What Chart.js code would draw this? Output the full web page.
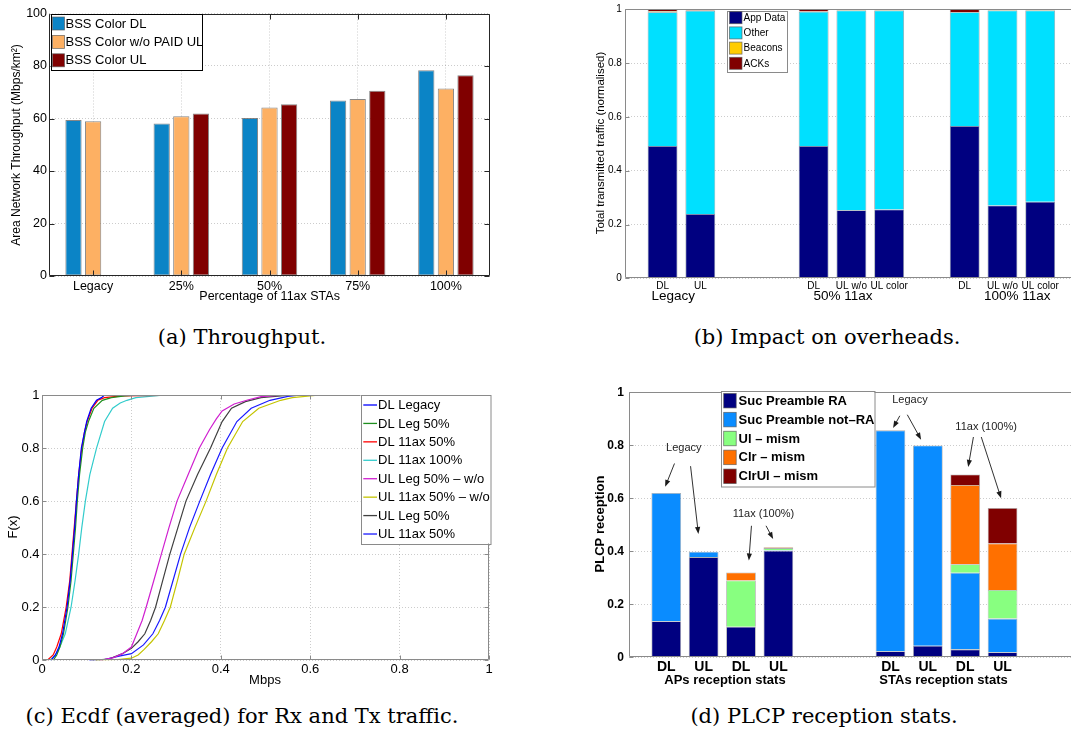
<!DOCTYPE html>
<html>
<head>
<meta charset="utf-8">
<title>BSS colouring results</title>
<script src="https://cdn.jsdelivr.net/npm/chart.js@4.4.1/dist/chart.umd.min.js"></script>
<style>
  html, body { margin:0; padding:0; background:#fff; }
  body { width:1071px; height:736px; overflow:hidden; position:relative; }
  .pane { position:absolute; }
  .pane canvas { display:block; }
  .cap { position:absolute; font-family:"DejaVu Serif","Liberation Serif",serif; font-size:21px; line-height:24px; color:#000; white-space:nowrap; transform:translateX(-50%); }
</style>
</head>
<body>
<div class="pane" style="left:0;top:0;"><canvas id="chartA" width="540" height="318"></canvas></div>
<div class="pane" style="left:540px;top:0;"><canvas id="chartB" width="560" height="318"></canvas></div>
<div class="pane" style="left:0;top:380px;"><canvas id="chartC" width="540" height="320"></canvas></div>
<div class="pane" style="left:540px;top:380px;"><canvas id="chartD" width="560" height="320"></canvas></div>
<div class="cap" style="left:242px;top:325px;">(a) Throughput.</div>
<div class="cap" style="left:827px;top:325px;">(b) Impact on overheads.</div>
<div class="cap" style="left:242px;top:704px;">(c) Ecdf (averaged) for Rx and Tx traffic.</div>
<div class="cap" style="left:824px;top:704px;">(d) PLCP reception stats.</div>
<script>
// ---------------- (a) Throughput ----------------
const tpCategories = ['Legacy', '25%', '50%', '75%', '100%'];
const tpBssColorDL = [59.4, 58.1, 60.2, 66.9, 78.4];
const tpBssColorWoPaidUL = [59.0, 60.9, 64.2, 67.4, 71.4];
const tpBssColorUL = [null, 61.9, 65.4, 70.6, 76.5];

// ---------------- (b) Overheads ----------------
const ovCategories = ['', 'DL', 'UL', '', '', 'DL', 'UL w/o', 'UL color', '', 'DL', 'UL w/o', 'UL color', ''];
const ovGroups = ['Legacy', '50% 11ax', '100% 11ax'];
const ovAppData = [null, 0.492, 0.239, null, null, 0.492, 0.253, 0.256, null, 0.566, 0.271, 0.285, null];
const ovOther   = [null, 0.497, 0.756, null, null, 0.499, 0.743, 0.740, null, 0.423, 0.725, 0.711, null];
const ovBeacons = [null, 0.004, 0.001, null, null, 0.001, 0.001, 0.001, null, 0.001, 0.001, 0.001, null];
const ovACKs    = [null, 0.007, 0.004, null, null, 0.008, 0.003, 0.003, null, 0.010, 0.003, 0.003, null];

// ---------------- (c) ECDF curves [Mbps, F(x)] ----------------
const dlLegacy = [[0.020,0],[0.030,0.02],[0.038,0.05],[0.046,0.10],[0.056,0.20],[0.063,0.30],[0.068,0.40],[0.073,0.50],[0.077,0.60],[0.082,0.70],[0.088,0.80],[0.095,0.86],[0.100,0.90],[0.110,0.95],[0.122,0.98],[0.133,0.99],[0.140,1.00]];
const dlLeg50 = [[0.025,0],[0.033,0.02],[0.040,0.05],[0.048,0.10],[0.058,0.20],[0.065,0.30],[0.070,0.40],[0.075,0.50],[0.079,0.60],[0.084,0.70],[0.091,0.80],[0.097,0.86],[0.104,0.90],[0.116,0.95],[0.135,0.98],[0.155,0.99],[0.185,0.997],[0.220,1.00]];
const dl11ax50 = [[0.012,0],[0.025,0.02],[0.033,0.05],[0.043,0.10],[0.054,0.20],[0.062,0.30],[0.067,0.40],[0.072,0.50],[0.077,0.60],[0.082,0.70],[0.089,0.80],[0.095,0.86],[0.101,0.90],[0.112,0.95],[0.125,0.98],[0.140,0.99],[0.180,0.997],[0.350,1.00]];
const dl11ax100 = [[0.018,0],[0.030,0.02],[0.040,0.05],[0.052,0.10],[0.065,0.20],[0.074,0.30],[0.082,0.40],[0.089,0.50],[0.097,0.60],[0.107,0.70],[0.122,0.80],[0.140,0.90],[0.158,0.95],[0.175,0.97],[0.190,0.98],[0.210,0.99],[0.240,0.995],[0.276,1.00]];
const ulLeg50Wo = [[0.130,0],[0.160,0.010],[0.180,0.025],[0.200,0.05],[0.212,0.10],[0.224,0.15],[0.233,0.20],[0.250,0.30],[0.267,0.40],[0.284,0.50],[0.302,0.60],[0.327,0.70],[0.352,0.80],[0.375,0.87],[0.390,0.91],[0.403,0.94],[0.430,0.966],[0.460,0.981],[0.490,0.994],[0.545,1.00]];
const ul11ax50Wo = [[0.120,0],[0.170,0.003],[0.200,0.008],[0.215,0.02],[0.228,0.04],[0.245,0.07],[0.260,0.10],[0.274,0.15],[0.287,0.20],[0.303,0.30],[0.318,0.40],[0.342,0.50],[0.367,0.60],[0.390,0.70],[0.415,0.80],[0.449,0.90],[0.485,0.95],[0.534,0.98],[0.560,0.99],[0.622,1.00]];
const ulLeg50 = [[0.110,0],[0.150,0.005],[0.180,0.025],[0.200,0.045],[0.215,0.07],[0.230,0.10],[0.243,0.15],[0.254,0.20],[0.270,0.30],[0.286,0.40],[0.304,0.50],[0.322,0.60],[0.348,0.70],[0.377,0.80],[0.403,0.90],[0.424,0.95],[0.455,0.975],[0.490,0.99],[0.560,1.00]];
const ul11ax50 = [[0.105,0],[0.140,0.003],[0.170,0.015],[0.200,0.025],[0.227,0.058],[0.248,0.10],[0.263,0.15],[0.276,0.20],[0.293,0.30],[0.310,0.40],[0.330,0.50],[0.353,0.60],[0.377,0.70],[0.403,0.80],[0.436,0.90],[0.468,0.95],[0.510,0.98],[0.550,0.995],[0.580,1.00]];

// ---------------- (d) PLCP reception ----------------
const plcpCategories = ['', 'DL', 'UL', 'DL', 'UL', '', '', 'DL', 'UL', 'DL', 'UL', '', ''];
const plcpGroups = ['APs reception stats', 'STAs reception stats'];
const sucPreambleRA    = [null, 0.136, 0.378, 0.115, 0.402, null, null, 0.023, 0.044, 0.030, 0.019, null, null];
const sucPreambleNotRA = [null, 0.484, 0.020, 0,     0.002, null, null, 0.833, 0.755, 0.289, 0.127, null, null];
const ulMism           = [null, 0,     0,     0.175, 0.008, null, null, 0,     0,     0.032, 0.108, null, null];
const clrMism          = [null, 0,     0,     0.030, 0.003, null, null, 0,     0,     0.299, 0.175, null, null];
const clrUlMism        = [null, 0,     0,     0,     0,     null, null, 0,     0,     0.040, 0.134, null, null];
// annotations in data units: [text, slot, value] and arrows [slot1, v1, slot2, v2]
const plcpNotes = [['Legacy', 1.47, 0.79], ['11ax (100%)', 3.60, 0.542], ['Legacy', 7.52, 0.971], ['11ax (100%)', 9.56, 0.868]];
const plcpArrows = [[1.22,0.731,0.97,0.643],[1.65,0.721,1.86,0.465],[3.28,0.496,3.21,0.365],[3.67,0.496,3.86,0.446],
                    [7.25,0.911,7.07,0.865],[7.45,0.915,7.82,0.821],[9.22,0.831,9.08,0.718],[9.43,0.831,9.96,0.600]];

// ---------------- layout helpers ----------------
const SANS = '"Liberation Sans", Arial, Helvetica, sans-serif';
Chart.defaults.font.family = SANS;
Chart.defaults.color = '#000';
Chart.defaults.animation = false;
Chart.defaults.plugins.legend.display = false;
Chart.defaults.plugins.tooltip.enabled = false;
const f = (size, weight) => `${weight || 'normal'} ${size}px ${SANS}`;
const num = v => String(Math.round(v * 10) / 10);
const GRID = 'rgba(0,0,0,0.2)';
const ovGroupAt = [1.28, 5.78, 10.39];
const plcpGroupAt = [2.57, 8.42];

const decor = {
  id: 'decor',
  afterDraw(chart, args, o) {
    const ctx = chart.ctx, ca = chart.chartArea, xs = chart.scales.x, ys = chart.scales.y;
    ctx.save();
    const L = Math.round(ca.left) + 0.5, R = Math.round(ca.right) - 0.5, T = Math.round(ca.top) + 0.5, B = Math.round(ca.bottom) - 0.5;
    if (o.ticksIn) {
      const n = o.ticksIn.len;
      ctx.strokeStyle = o.frame.color; ctx.lineWidth = 1; ctx.beginPath();
      (o.ticksIn.y || []).forEach(side => ys.ticks.forEach((t, i) => {
        const py = Math.round(ys.getPixelForTick(i)) + 0.5;
        if (side === 'left') { ctx.moveTo(L, py); ctx.lineTo(L + n, py); } else { ctx.moveTo(R, py); ctx.lineTo(R - n, py); }
      }));
      (o.ticksIn.x || []).forEach(side => xs.ticks.forEach((t, i) => {
        const px = Math.round(xs.getPixelForTick(i)) + 0.5;
        if (side === 'bottom') { ctx.moveTo(px, B); ctx.lineTo(px, B - n); } else { ctx.moveTo(px, T); ctx.lineTo(px, T + n); }
      }));
      ctx.stroke();
    }
    if (o.frame) {
      ctx.strokeStyle = o.frame.color; ctx.lineWidth = 1; ctx.beginPath();
      const s = o.frame.sides;
      if (s.includes('top')) { ctx.moveTo(L, T); ctx.lineTo(R, T); }
      if (s.includes('bottom')) { ctx.moveTo(L, B); ctx.lineTo(R, B); }
      if (s.includes('left')) { ctx.moveTo(L, T); ctx.lineTo(L, B); }
      if (s.includes('right')) { ctx.moveTo(R, T); ctx.lineTo(R, B); }
      ctx.stroke();
    }
    if (o.legend) {
      const g = o.legend;
      ctx.fillStyle = '#fff'; ctx.fillRect(g.x, g.y, g.w, g.h);
      ctx.strokeStyle = g.border; ctx.lineWidth = 1; ctx.strokeRect(Math.round(g.x) + 0.5, Math.round(g.y) + 0.5, g.w, g.h);
      chart.data.datasets.forEach((ds, i) => {
        const cy = g.y + g.first + i * g.row;
        if (g.swatch === 'line') {
          ctx.strokeStyle = ds.borderColor; ctx.lineWidth = 1.3; ctx.beginPath();
          ctx.moveTo(g.x + g.sx, cy); ctx.lineTo(g.x + g.sx + g.sw, cy); ctx.stroke();
        } else {
          ctx.fillStyle = ds.backgroundColor; ctx.fillRect(g.x + g.sx, cy - g.sh / 2, g.sw, g.sh);
          ctx.strokeStyle = 'rgba(90,90,90,0.8)'; ctx.lineWidth = 0.8; ctx.strokeRect(g.x + g.sx, cy - g.sh / 2, g.sw, g.sh);
        }
        ctx.fillStyle = '#000'; ctx.font = g.font; ctx.textAlign = 'left'; ctx.textBaseline = 'middle';
        ctx.fillText(ds.label, g.x + g.tx, cy + 0.5);
      });
    }
    (o.texts || []).forEach(t => {
      const x = t.xv !== undefined ? xs.getPixelForValue(t.xv) : t.x;
      const y = t.yv !== undefined ? ys.getPixelForValue(t.yv) : t.y;
      ctx.save(); ctx.translate(x, y); if (t.rot) ctx.rotate(t.rot);
      ctx.font = t.font; ctx.fillStyle = t.color || '#000'; ctx.textAlign = 'center'; ctx.textBaseline = 'middle';
      ctx.fillText(t.text, 0, 0); ctx.restore();
    });
    (o.arrows || []).forEach(a => {
      const x1 = xs.getPixelForValue(a[0]), y1 = ys.getPixelForValue(a[1]);
      const x2 = xs.getPixelForValue(a[2]), y2 = ys.getPixelForValue(a[3]);
      const ang = Math.atan2(y2 - y1, x2 - x1), hl = 7, hw = 2.6;
      ctx.strokeStyle = '#1a1a1a'; ctx.fillStyle = '#1a1a1a'; ctx.lineWidth = 0.9;
      ctx.beginPath(); ctx.moveTo(x1, y1); ctx.lineTo(x2 - hl * 0.8 * Math.cos(ang), y2 - hl * 0.8 * Math.sin(ang)); ctx.stroke();
      ctx.beginPath(); ctx.moveTo(x2, y2);
      ctx.lineTo(x2 - hl * Math.cos(ang) + hw * Math.sin(ang), y2 - hl * Math.sin(ang) - hw * Math.cos(ang));
      ctx.lineTo(x2 - hl * Math.cos(ang) - hw * Math.sin(ang), y2 - hl * Math.sin(ang) + hw * Math.cos(ang));
      ctx.closePath(); ctx.fill();
    });
    ctx.restore();
  }
};
Chart.register(decor);

function yAxis(o) {
  return {
    type: 'linear', min: 0, max: o.max, stacked: !!o.stacked,
    border: { display: false, dash: [1, 2] },
    grid: { color: GRID, drawTicks: false, display: true },
    ticks: { stepSize: o.step, padding: o.pad, font: o.font, color: '#000', callback: v => num(v) },
    afterFit: s => { s.width = o.width; }
  };
}

// ---------------- chart (a) ----------------
new Chart(document.getElementById('chartA'), {
  type: 'bar',
  data: {
    labels: tpCategories,
    datasets: [
      { label: 'BSS Color DL', data: tpBssColorDL, backgroundColor: '#0b84c6' },
      { label: 'BSS Color w/o PAID UL', data: tpBssColorWoPaidUL, backgroundColor: '#fdb063' },
      { label: 'BSS Color UL', data: tpBssColorUL, backgroundColor: '#800000' }
    ]
  },
  options: {
    responsive: false,
    layout: { padding: { left: 0, top: 13.5, right: 50, bottom: 0 } },
    datasets: { bar: { categoryPercentage: 0.667, barPercentage: 0.83, borderWidth: 1, borderColor: 'rgba(95,95,95,0.75)', borderSkipped: false } },
    scales: {
      x: {
        type: 'category', offset: true,
        border: { display: false, dash: [1, 2] },
        grid: { color: GRID, drawTicks: false, offset: false },
        ticks: { font: { size: 12.5 }, padding: 3, maxRotation: 0, autoSkip: false, color: '#000' },
        afterFit: s => { s.height = 42; }
      },
      y: yAxis({ max: 100, step: 20, pad: 2, font: { size: 12.5 }, width: 49 })
    },
    plugins: {
      decor: {
        frame: { color: '#262626', sides: ['top', 'right', 'bottom', 'left'] },
        ticksIn: { len: 5, y: ['left', 'right'], x: ['bottom', 'top'] },
        legend: { x: 50.5, y: 13.5, w: 151, h: 56, first: 10, row: 18.4, swatch: 'box', sx: 2, sw: 12, sh: 13, tx: 15, font: f(13), border: '#000' },
        texts: [
          { text: 'Area Network Throughput (Mbps/km²)', x: 17, y: 145, rot: -Math.PI / 2, font: f(12) },
          { text: 'Percentage of 11ax STAs', x: 269.6, y: 296.5, font: f(12.5) }
        ]
      }
    }
  }
});

// ---------------- chart (b) ----------------
new Chart(document.getElementById('chartB'), {
  type: 'bar',
  data: {
    labels: ovCategories,
    datasets: [
      { label: 'App Data', data: ovAppData, backgroundColor: '#000080' },
      { label: 'Other', data: ovOther, backgroundColor: '#00e0ff' },
      { label: 'Beacons', data: ovBeacons, backgroundColor: '#ffcc00' },
      { label: 'ACKs', data: ovACKs, backgroundColor: '#800000' }
    ]
  },
  options: {
    responsive: false,
    layout: { padding: { left: 0, top: 9.3, right: 22, bottom: 0 } },
    datasets: { bar: { categoryPercentage: 1, barPercentage: 0.79, borderWidth: 0.8, borderColor: 'rgba(90,110,120,0.7)' } },
    scales: {
      x: {
        type: 'category', offset: false, stacked: true,
        border: { display: false },
        grid: { display: false, drawTicks: false },
        ticks: { font: { size: 10 }, padding: 1.5, maxRotation: 0, autoSkip: false, color: '#000' },
        afterFit: s => { s.height = 39.7; }
      },
      y: yAxis({ max: 1, step: 0.2, pad: 3, font: { size: 10 }, width: 84.8, stacked: true })
    },
    plugins: {
      decor: {
        frame: { color: '#8a8a8a', sides: ['top', 'bottom', 'left'] },
        ticksIn: { len: 4, y: ['left'] },
        legend: { x: 187, y: 10.5, w: 60, h: 61, first: 7.2, row: 15.2, swatch: 'box', sx: 2.5, sw: 12.5, sh: 12, tx: 16.6, font: f(10), border: '#8a8a8a' },
        texts: [
          { text: 'Total transmitted traffic (normalised)', x: 61, y: 143, rot: -Math.PI / 2, font: f(11.5) }
        ].concat(ovGroups.map((g, i) => ({ text: g, xv: ovGroupAt[i], y: 296, font: f(13.5) })))
      }
    }
  }
});

// ---------------- chart (c) ----------------
const ecdfSeries = [
  ['DL Legacy', dlLegacy, '#0000ff'],
  ['DL Leg 50%', dlLeg50, '#1f8f1f'],
  ['DL 11ax 50%', dl11ax50, '#ff0000'],
  ['DL 11ax 100%', dl11ax100, '#33cccc'],
  ['UL Leg 50% – w/o', ulLeg50Wo, '#d020d0'],
  ['UL 11ax 50% – w/o', ul11ax50Wo, '#c4c400'],
  ['UL Leg 50%', ulLeg50, '#404040'],
  ['UL 11ax 50%', ul11ax50, '#1a1aff']
];
new Chart(document.getElementById('chartC'), {
  type: 'line',
  data: {
    datasets: ecdfSeries.map(([label, pts, color]) => ({
      label, data: pts.map(([x, y]) => ({ x, y })), borderColor: color, backgroundColor: color,
      borderWidth: 1.2, pointRadius: 0, tension: 0, fill: false
    }))
  },
  options: {
    responsive: false,
    layout: { padding: { left: 0, top: 15, right: 51, bottom: 0 } },
    scales: {
      x: {
        type: 'linear', min: 0, max: 1,
        border: { display: false, dash: [1, 2] },
        grid: { color: GRID, drawTicks: false },
        ticks: { stepSize: 0.2, font: { size: 13 }, padding: 1.5, color: '#000', callback: v => num(v) },
        afterFit: s => { s.height = 39.7; }
      },
      y: yAxis({ max: 1, step: 0.2, pad: 2.4, font: { size: 13 }, width: 42 })
    },
    plugins: {
      decor: {
        frame: { color: '#8a8a8a', sides: ['top', 'right', 'bottom', 'left'] },
        ticksIn: { len: 4, y: ['left', 'right'], x: ['bottom', 'top'] },
        legend: { x: 360.5, y: 14.5, w: 129.5, h: 149, first: 10.5, row: 18.43, swatch: 'line', sx: 2.8, sw: 13.7, tx: 17.5, font: f(13), border: '#8a8a8a' },
        texts: [
          { text: 'F(x)', x: 13.8, y: 147, rot: -Math.PI / 2, font: f(13) },
          { text: 'Mbps', x: 265, y: 300, font: f(13) }
        ]
      }
    }
  }
});

// ---------------- chart (d) ----------------
new Chart(document.getElementById('chartD'), {
  type: 'bar',
  data: {
    labels: plcpCategories,
    datasets: [
      { label: 'Suc Preamble RA', data: sucPreambleRA, backgroundColor: '#000080' },
      { label: 'Suc Preamble not–RA', data: sucPreambleNotRA, backgroundColor: '#0a8cff' },
      { label: 'Ul – mism', data: ulMism, backgroundColor: '#88ff80' },
      { label: 'Clr – mism', data: clrMism, backgroundColor: '#ff7000' },
      { label: 'ClrUl – mism', data: clrUlMism, backgroundColor: '#800000' }
    ]
  },
  options: {
    responsive: false,
    layout: { padding: { left: 0, top: 10.7, right: 22.7, bottom: 0 } },
    datasets: { bar: { categoryPercentage: 1, barPercentage: 0.795, borderWidth: 0.8, borderColor: 'rgba(120,120,120,0.6)' } },
    scales: {
      x: {
        type: 'category', offset: false, stacked: true,
        border: { display: false },
        grid: { display: false, drawTicks: false },
        ticks: { font: { size: 14, weight: 'bold' }, padding: 1, maxRotation: 0, autoSkip: false, color: '#000' },
        afterFit: s => { s.height = 42.7; }
      },
      y: yAxis({ max: 1, step: 0.2, pad: 5, font: { size: 12, weight: 'bold' }, width: 88.9, stacked: true })
    },
    plugins: {
      decor: {
        frame: { color: '#8a8a8a', sides: ['top', 'bottom', 'left'] },
        ticksIn: { len: 4, y: ['left'] },
        legend: { x: 181, y: 10.5, w: 153.5, h: 95.5, first: 10.2, row: 18.9, swatch: 'box', sx: 2.7, sw: 12.5, sh: 14.5, tx: 17.6, font: f(13, 'bold'), border: '#8a8a8a' },
        texts: [
          { text: 'PLCP reception', x: 60.3, y: 144, rot: -Math.PI / 2, font: f(13, 'bold') }
        ].concat(plcpGroups.map((g, i) => ({ text: g, xv: plcpGroupAt[i], y: 300.7, font: f(13, 'bold') })))
         .concat(plcpNotes.map(([t, xv, yv]) => ({ text: t, xv, yv, font: f(11), color: '#222' }))),
        arrows: plcpArrows
      }
    }
  }
});
</script>
</body>
</html>
